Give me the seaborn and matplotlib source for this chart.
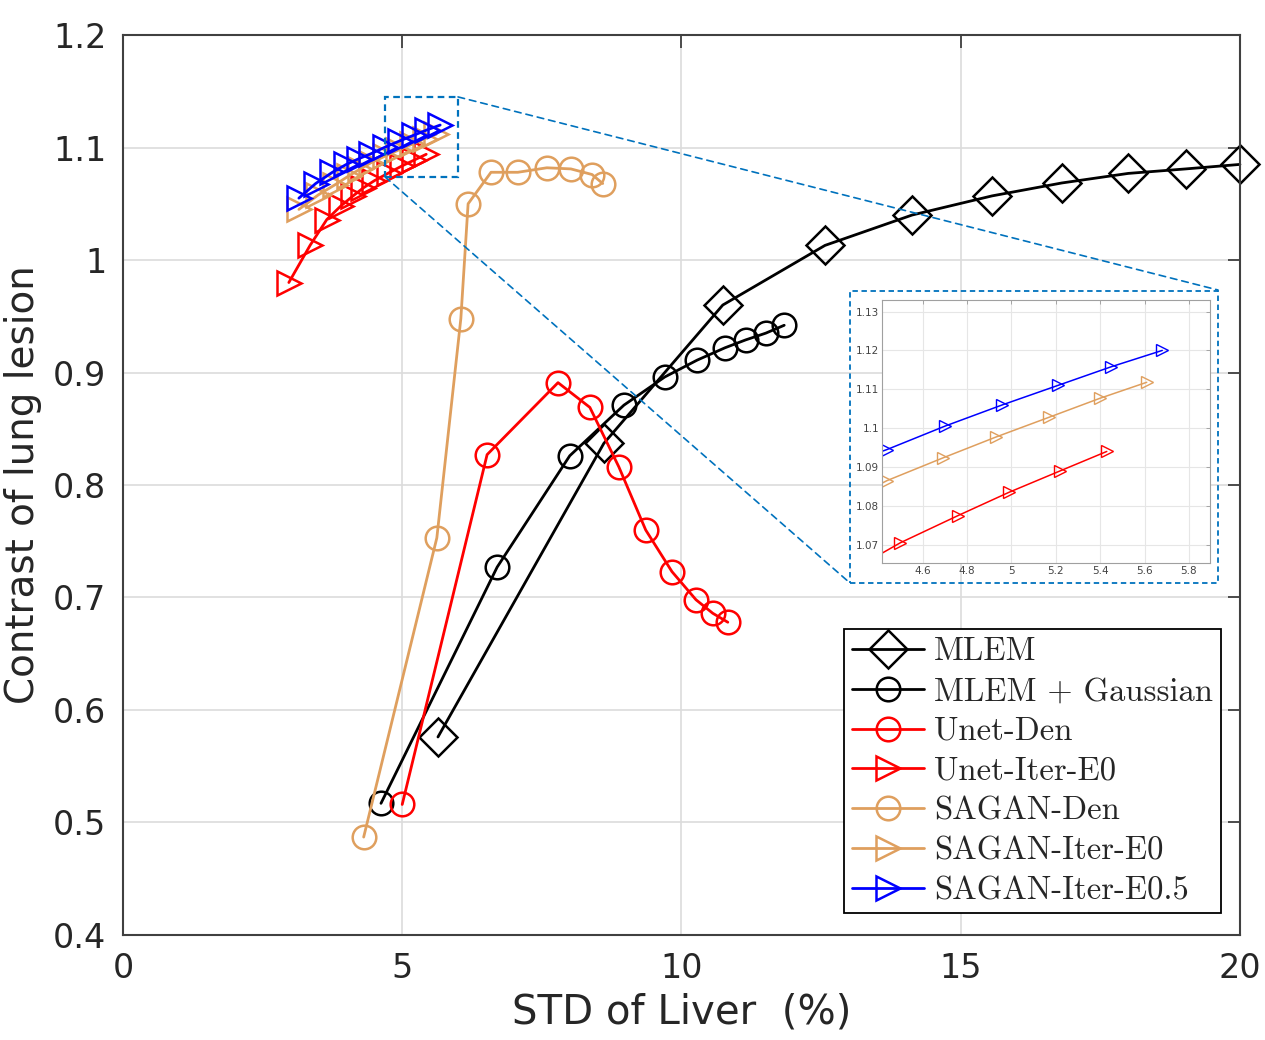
import matplotlib
matplotlib.use('Agg')
import matplotlib.pyplot as plt
import seaborn as sns
from matplotlib.patches import Rectangle, ConnectionPatch

# ---- data ----
mlem_x = [5.64, 8.61, 10.74, 12.57, 14.13, 15.56, 16.81, 18.0, 19.03, 20.0]
mlem_y = [0.576, 0.837, 0.960, 1.013, 1.040, 1.057, 1.0685, 1.077, 1.081, 1.085]

mlem_g_x = [4.62, 6.70, 8.00, 8.97, 9.70, 10.28, 10.78, 11.15, 11.51, 11.84]
mlem_g_y = [0.517, 0.727, 0.826, 0.871, 0.896, 0.911, 0.922, 0.929, 0.935, 0.942]

unet_den_x = [5.00, 6.52, 7.79, 8.36, 8.88, 9.36, 9.83, 10.26, 10.56, 10.83]
unet_den_y = [0.516, 0.827, 0.891, 0.869, 0.816, 0.760, 0.723, 0.698, 0.686, 0.678]

unet_iter_x = [2.97, 3.35, 3.65, 3.90, 4.12, 4.30, 4.50, 4.76, 4.99, 5.22, 5.43]
unet_iter_y = [0.980, 1.013, 1.036, 1.048, 1.057, 1.064, 1.0705, 1.0775, 1.0835, 1.089, 1.094]

sagan_den_x = [4.31, 5.62, 6.05, 6.18, 6.59, 7.07, 7.59, 8.02, 8.40, 8.59]
sagan_den_y = [0.487, 0.753, 0.948, 1.050, 1.078, 1.078, 1.082, 1.081, 1.076, 1.068]

sagan_iter_x = [3.15, 3.50, 3.80, 4.05, 4.25, 4.44, 4.69, 4.93, 5.17, 5.40, 5.61]
sagan_iter_y = [1.045, 1.058, 1.067, 1.075, 1.081, 1.0865, 1.0923, 1.0977, 1.1028, 1.1077, 1.1118]

sagan_iter5_x = [3.15, 3.45, 3.75, 4.00, 4.22, 4.44, 4.70, 4.96, 5.21, 5.45, 5.68]
sagan_iter5_y = [1.055, 1.068, 1.078, 1.085, 1.090, 1.0945, 1.1005, 1.106, 1.111, 1.1158, 1.120]

tan = '#DF9F5E'
series = [
    ('MLEM', mlem_x, mlem_y, 'black', 'D'),
    ('MLEM + Gaussian', mlem_g_x, mlem_g_y, 'black', 'o'),
    ('Unet-Den', unet_den_x, unet_den_y, 'red', 'o'),
    ('Unet-Iter-E0', unet_iter_x, unet_iter_y, 'red', '>'),
    ('SAGAN-Den', sagan_den_x, sagan_den_y, tan, 'o'),
    ('SAGAN-Iter-E0', sagan_iter_x, sagan_iter_y, tan, '>'),
    ('SAGAN-Iter-E0.5', sagan_iter5_x, sagan_iter5_y, 'blue', '>'),
]
inset_names = ['Unet-Iter-E0', 'SAGAN-Iter-E0', 'SAGAN-Iter-E0.5']

sns.set_style('white')
plt.rcParams['font.family'] = ['DejaVu Sans']
text_col = '#262626'

fig = plt.figure(figsize=(12.65, 10.4), dpi=100)
ax = fig.add_axes([0.0972, 0.101, 0.883, 0.8653])

for name, xs, ys, c, m in series:
    ms = 19 if m == 'D' else 17
    sns.lineplot(x=xs, y=ys, ax=ax, sort=False, estimator=None, color=c, lw=2,
                 marker=m, markersize=ms, mfc='none', mec=c, mew=1.8, label=name,
                 clip_on=False)

ax.set_xlim(0, 20)
ax.set_ylim(0.4, 1.2)
ax.set_xticks([0, 5, 10, 15, 20])
ax.set_yticks([0.4, 0.5, 0.6, 0.7, 0.8, 0.9, 1.0, 1.1, 1.2])
ax.set_yticklabels(['0.4', '0.5', '0.6', '0.7', '0.8', '0.9', '1', '1.1', '1.2'])
ax.grid(True, color='#dcdcdc', lw=1.2)
ax.tick_params(direction='in', length=9, width=1.3, top=True, right=True,
               labelsize=24, colors='#404040', labelcolor=text_col, pad=12)
for s in ax.spines.values():
    s.set_color('#404040')
    s.set_linewidth(1.5)
ax.set_xlabel('STD of Liver  (%)', fontsize=29, color=text_col, labelpad=6)
ax.set_ylabel('Contrast of lung lesion', fontsize=28, color=text_col)
ax.yaxis.set_label_coords(-0.0725, 0.5)

leg = ax.legend(loc='lower right', bbox_to_anchor=(0.983, 0.024), borderaxespad=0,
                prop={'family': ['cmr10', 'DejaVu Serif'], 'size': 23.5},
                fancybox=False, edgecolor='black', framealpha=1,
                handlelength=2.2, labelspacing=0.33, borderpad=0.25, handletextpad=0.3)
leg.get_frame().set_linewidth(1.3)
leg.set_zorder(20)
for t in leg.get_texts():
    t.set_color(text_col)

# ---- inset ----
ins = fig.add_axes([0.6972, 0.4587, 0.2593, 0.2529])
for name, xs, ys, c, m in series:
    if name in inset_names:
        sns.lineplot(x=xs, y=ys, ax=ins, sort=False, estimator=None, color=c, lw=1.1,
                     marker=m, markersize=8, mfc='none', mec=c, mew=1.0, legend=False)
ins.set_xlim(4.417, 5.895)
ins.set_ylim(1.0653, 1.133)
ins.set_xticks([4.6, 4.8, 5.0, 5.2, 5.4, 5.6, 5.8])
ins.set_xticklabels(['4.6', '4.8', '5', '5.2', '5.4', '5.6', '5.8'])
ins.set_yticks([1.07, 1.08, 1.09, 1.10, 1.11, 1.12, 1.13])
ins.set_yticklabels(['1.07', '1.08', '1.09', '1.1', '1.11', '1.12', '1.13'])
ins.grid(True, color='#e6e6e6', lw=0.8)
ins.tick_params(direction='in', length=3, width=0.6, top=True, right=True,
                labelsize=7.5, colors='#9a9a9a', labelcolor='#444444', pad=2)
for s in ins.spines.values():
    s.set_color('#a0a0a0')
    s.set_linewidth(0.8)

# zoom box and connectors
blue = '#0072BD'
ax.add_patch(Rectangle((4.69, 1.074), 1.31, 0.071, fill=False, ec=blue, lw=1.6,
                       ls=(0, (3, 2)), zorder=10))
fig.patches.append(Rectangle((850 / 1265, 1 - 583 / 1040), 368 / 1265, 292 / 1040,
                             transform=fig.transFigure, fill=False, ec=blue, lw=1.3,
                             ls=(0, (3, 2)), zorder=10))
for (dx, dy), (px, py) in [((6.0, 1.145), (1218, 290)), ((4.69, 1.074), (850, 583))]:
    con = ConnectionPatch(xyA=(dx, dy), coordsA=ax.transData,
                          xyB=(px / 1265, 1 - py / 1040), coordsB=fig.transFigure,
                          color=blue, lw=1.2, ls=(0, (4, 3)), zorder=10)
    fig.add_artist(con)

plt.savefig('out.png', dpi=100)
